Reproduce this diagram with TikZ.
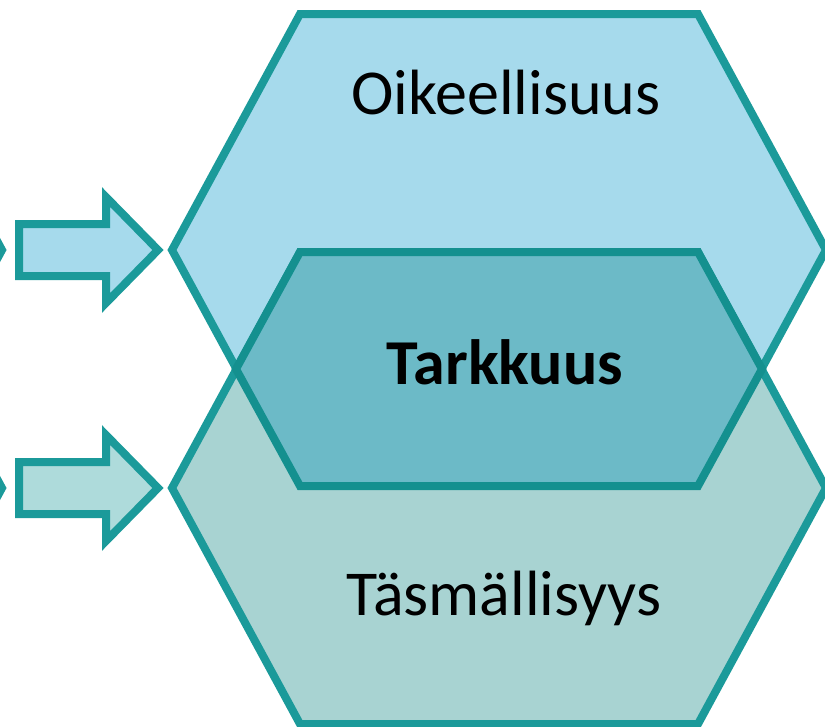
\documentclass[tikz,border=0pt]{standalone}
\usepackage{fontspec}
\setmainfont{Carlito}
\definecolor{tealline}{HTML}{1B9A9A}
\definecolor{tealdark}{HTML}{14908F}
\definecolor{topfill}{HTML}{A6DAEC}
\definecolor{botfill}{HTML}{A8D3D2}
\definecolor{midfill}{HTML}{6CBAC7}
\definecolor{arrowtwo}{HTML}{AEDBDB}
\begin{document}
\begin{tikzpicture}[x=1pt,y=-1pt,line join=miter,
  shapeline/.style={draw=tealline,line width=8pt},
  label/.style={font=\fontsize{64}{76}\selectfont,text=black,inner sep=0pt,anchor=base}]
\useasboundingbox (0,0) rectangle (825,726);
\begin{scope}
\clip (0,0) rectangle (825,726);
% partial hexagons at the far left
\path[shapeline,fill=topfill] (-126,14) -- (2,250) -- (-126,486);
\path[shapeline,fill=botfill] (-126,252) -- (2,488) -- (-126,724);
% arrows
\path[shapeline,fill=topfill] (19,224) -- (106,224) -- (106,197) -- (158,250) -- (106,303) -- (106,276) -- (19,276) -- cycle;
\path[shapeline,fill=arrowtwo] (19,462) -- (106,462) -- (106,435) -- (158,488) -- (106,541) -- (106,514) -- (19,514) -- cycle;
% top hexagon
\path[shapeline,fill=topfill] (300,14) -- (698,14) -- (826,250) -- (698,486) -- (300,486) -- (172,250) -- cycle;
% bottom hexagon
\path[shapeline,fill=botfill] (300,252) -- (698,252) -- (826,488) -- (698,724) -- (300,724) -- (172,488) -- cycle;
% middle (overlap) hexagon
\path[shapeline,draw=tealdark,fill=midfill] (300,252) -- (698,252) -- (762,369) -- (698,486) -- (300,486) -- (236,369) -- cycle;
\end{scope}
\node[label] (oik) at (506,114) {Oikeellisuus};
\node[label,font=\fontsize{64}{76}\selectfont\bfseries] (tar) at (505,384) {Tarkkuus};
\node[label] (tas) at (504,615) {Täsmällisyys};
\end{tikzpicture}
\end{document}
